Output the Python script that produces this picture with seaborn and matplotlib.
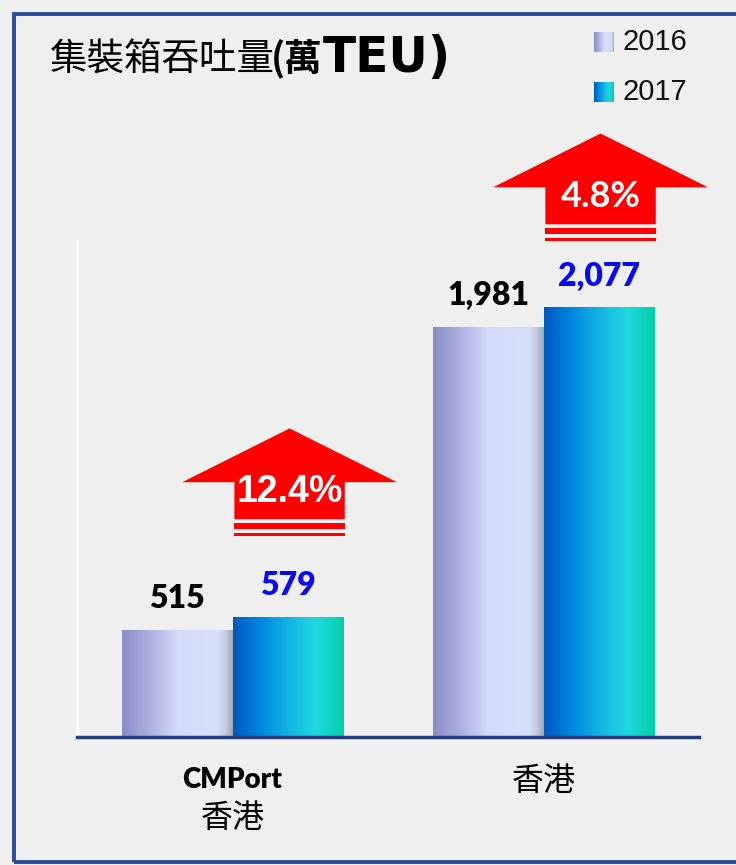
"""
Container throughput bar chart (CMPort HK vs Hong Kong), 2016 vs 2017.
"""
import numpy as np
import pandas as pd
import matplotlib
matplotlib.use("Agg")
import matplotlib.pyplot as plt
import seaborn as sns
from matplotlib.colors import LinearSegmentedColormap
from matplotlib.patches import Polygon, Rectangle

# data
ports = ["CMPort 香港", "香港"]
port_label_top = ["CMPort", ""]
port_label_cjk = ["香港", "香港"]
years = ["2016", "2017"]
teu_2016 = [515, 1981]
teu_2017 = [579, 2077]
growth_labels = ["12.4%", "4.8%"]
growth_fonts = ["Liberation Sans", "Lato"]
arrow_base = [973, 2400]  # bottom of each growth arrow, in TEU units

BG = "#eeefee"
CJK = ["Noto Sans CJK TC", "DejaVu Sans"]

sns.set_theme(style="white")
plt.rcParams["font.family"] = CJK

cmap_2016 = LinearSegmentedColormap.from_list("c16", [
    (0.0, "#8a8cc4"), (0.3, "#b4b9e6"), (0.5, "#d3dbfa"),
    (0.86, "#d6e0fc"), (0.94, "#c2cadf"), (1.0, "#9eaba0")])
cmap_2017 = LinearSegmentedColormap.from_list("c17", [
    (0.0, "#0058c0"), (0.25, "#0088e0"), (0.5, "#12b4e2"),
    (0.75, "#22d8e0"), (1.0, "#00d0a8")])
cmaps = [cmap_2016, cmap_2017]
grad = np.linspace(0, 1, 256).reshape(1, -1)

df = pd.DataFrame({
    "port": ports * 2,
    "year": [years[0]] * 2 + [years[1]] * 2,
    "teu": teu_2016 + teu_2017,
})

W, H = 736, 865
fig = plt.figure(figsize=(W / 100, H / 100), dpi=100, facecolor=BG)
ax = fig.add_axes([77 / W, 1 - 737 / H, (699 - 77) / W, (737 - 241) / H])
ax.set_facecolor("none")

sns.barplot(data=df, x="port", y="teu", hue="year", order=ports, hue_order=years,
            width=0.71, legend=False, ax=ax)

# gradient fill for each bar
for i, cont in enumerate(ax.containers):
    for patch in cont.patches:
        x0, y0 = patch.get_xy()
        w, h = patch.get_width(), patch.get_height()
        patch.set_visible(False)
        ax.imshow(grad, extent=[x0, x0 + w, y0, y0 + h], aspect="auto",
                  cmap=cmaps[i], zorder=2, interpolation="bicubic")

ax.set_xlim(-0.5, 1.5)
ax.set_ylim(0, 2400)
ax.set_xlabel("")
ax.set_ylabel("")
ax.set_xticks([])
ax.set_yticks([])
for s in ["top", "right"]:
    ax.spines[s].set_visible(False)
ax.spines["left"].set_color("white")
ax.spines["left"].set_linewidth(2)
ax.spines["bottom"].set_color("#253d7c")
ax.spines["bottom"].set_linewidth(2.5)

# value labels
bar_w = 0.71 / 2
for i in range(len(ports)):
    ax.annotate(f"{teu_2016[i]:,}", (i - bar_w / 2, teu_2016[i]), xytext=(0, 16),
                textcoords="offset points", ha="center", va="baseline",
                fontsize=23, fontweight="heavy", family="Lato", color="black")
    ax.annotate(f"{teu_2017[i]:,}", (i + bar_w / 2, teu_2017[i]), xytext=(0, 16),
                textcoords="offset points", ha="center", va="baseline",
                fontsize=23, fontweight="heavy", family="Lato", color="#0a0af0")

# growth arrows above the 2017 bars
for i in range(len(ports)):
    xc = i + bar_w / 2 + 0.006
    b = arrow_base[i]
    sw, hw = bar_w / 2, 0.345
    s2 = (b, b + 15)
    s1 = (b + 33, b + 63)
    shaft_bot, head_bot = b + 81, b + 260
    tip = head_bot + 260
    ax.add_patch(Polygon([(xc - hw, head_bot), (xc, tip), (xc + hw, head_bot),
                          (xc + sw, head_bot), (xc + sw, shaft_bot),
                          (xc - sw, shaft_bot), (xc - sw, head_bot)],
                         closed=True, fc="#ff0000", ec="none", clip_on=False, zorder=3))
    for lo, hi in (s1, s2):
        ax.add_patch(Rectangle((xc - sw, lo), 2 * sw, hi - lo, fc="#ff0000",
                               ec="none", clip_on=False, zorder=3))
    ax.text(xc, b + 165, growth_labels[i], ha="center", va="baseline",
            fontsize=27 if i == 0 else 26, fontweight="bold",
            family=growth_fonts[i], color="white", zorder=4)

# category labels
tr = ax.get_xaxis_transform()
for i in range(len(ports)):
    if port_label_top[i]:
        ax.text(i, -0.103, port_label_top[i], transform=tr, ha="center", va="baseline",
                fontsize=20, fontweight="heavy", family="Lato", color="black")
        ax.text(i, -0.181, port_label_cjk[i], transform=tr, ha="center", va="baseline",
                fontsize=23, family=CJK, color="black")
    else:
        ax.text(i, -0.106, port_label_cjk[i], transform=tr, ha="center", va="baseline",
                fontsize=23, family=CJK, color="black")

# title in three pieces (regular CJK, bold CJK, bold latin)
r = fig.canvas.get_renderer()
ty = 1 - 71 / H
t1 = fig.text(50 / W, ty, "集裝箱吞吐量", fontsize=27, family=CJK, color="black", va="baseline")
bb = t1.get_window_extent(r)
t2 = fig.text(bb.x1 / W - 4 / W, ty, "(萬", fontsize=27, fontweight="bold", family=CJK,
              color="black", va="baseline")
bb = t2.get_window_extent(r)
fig.text(bb.x1 / W, ty - 1 / H, "TEU)", fontsize=35, fontweight="bold", family="DejaVu Sans",
         color="black", va="baseline")

# legend with gradient swatches
for i, yr in enumerate(years):
    top = 32 + 50 * i
    sw_ax = fig.add_axes([594 / W, 1 - (top + 20) / H, 20 / W, 20 / H])
    sw_ax.imshow(grad, aspect="auto", cmap=cmaps[i])
    sw_ax.axis("off")
    fig.text(623 / W, 1 - (top + 10) / H, yr, fontsize=21, family="Liberation Sans",
             color="#111111", va="center")

# blue frame
fig.patches.append(Rectangle((13.5 / W, 3.5 / H), 1.0, (861.5 - 13.5) / H,
                             transform=fig.transFigure, fill=False,
                             ec="#2a4a9c", lw=2.8, zorder=10))

fig.savefig("out.png", dpi=100, facecolor=BG)
